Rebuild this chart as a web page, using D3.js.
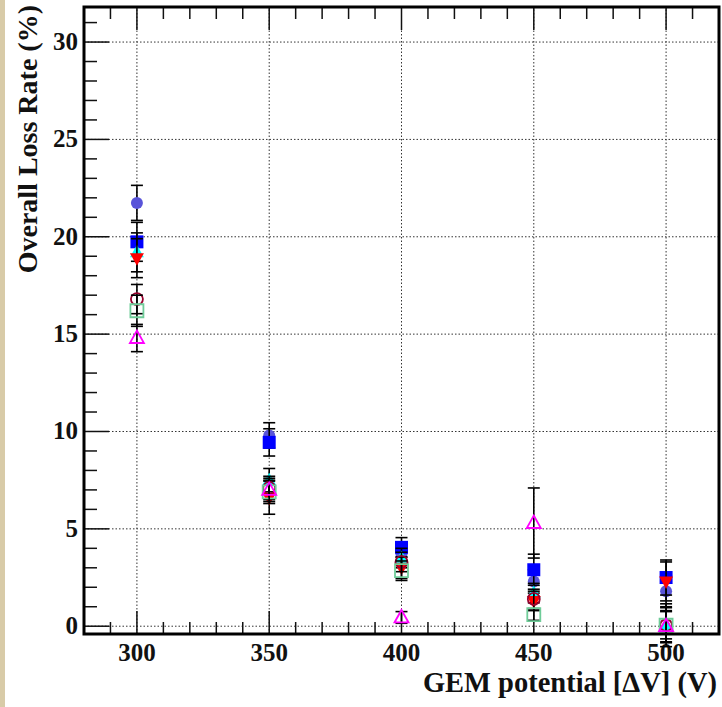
<!DOCTYPE html>
<html>
<head>
<meta charset="utf-8">
<script src="https://cdn.jsdelivr.net/npm/d3@7"></script>
<style>
  body { margin: 0; background: #fff; }
  svg { display: block; }
  .lbl { font-family: "Liberation Serif", "Times New Roman", serif; font-weight: bold; fill: #111; }
</style>
</head>
<body>
<script>
// GEM potential (V)
var voltages = [300, 350, 400, 450, 500];

// loss rate (%) per series, with errors
var slateCircle   = [21.74, 9.80, 3.70, 2.30, 1.80];
var slateCircleE  = [0.90, 0.65, 0.50, 0.60, 0.80];
var blueSquare    = [19.74, 9.44, 4.05, 2.90, 2.50];
var blueSquareE   = [1.00, 0.70, 0.50, 0.80, 0.90];
var cyanTri       = [19.20, 7.50, 3.50, 1.70, 0.05];
var cyanTriE      = [1.00, 0.60, 0.50, 0.50, 0.90];
var redTriDown    = [18.90, 6.60, 3.00, 1.30, 2.30];
var redTriDownE   = [1.00, 0.85, 0.55, 0.50, 1.00];
var darkRedOpen   = [16.80, 7.10, 3.30, 1.40, 0.05];
var darkRedOpenE  = [0.75, 0.60, 0.50, 0.50, 1.10];
var greenOpenSq   = [16.20, 6.90, 2.85, 0.60, 0.05];
var greenOpenSqE  = [0.80, 0.60, 0.50, 0.30, 0.70];
var magentaOpen   = [14.80, 7.00, 0.45, 5.30, 0.00];
var magentaOpenE  = [0.70, 0.60, 0.30, 1.80, 0.80];

var xTicks = [300, 350, 400, 450, 500];
var yTicks = [0, 5, 10, 15, 20, 25, 30];

var series = [
  { vals: slateCircle, errs: slateCircleE, shape: "circle", color: "#5954d9", fill: true },
  { vals: blueSquare, errs: blueSquareE, shape: "square", color: "#0000ff", fill: true },
  { vals: cyanTri, errs: cyanTriE, shape: "triUp", color: "#00ffff", fill: true },
  { vals: redTriDown, errs: redTriDownE, shape: "triDown", color: "#ff0000", fill: true },
  { vals: darkRedOpen, errs: darkRedOpenE, shape: "circle", color: "#99002e", fill: false },
  { vals: greenOpenSq, errs: greenOpenSqE, shape: "square", color: "#6fcc99", fill: false },
  { vals: magentaOpen, errs: magentaOpenE, shape: "triUp", color: "#ff00ff", fill: false }
];

var W = 722, H = 707;
var svg = d3.select("body").append("svg").attr("width", W).attr("height", H);

// beige strip of the slide on the left
svg.append("rect").attr("x", 0).attr("y", 0).attr("width", 5).attr("height", H).attr("fill", "#d8cba8");

var x = d3.scaleLinear().domain([280, 520]).range([84, 719]);
var y = d3.scaleLinear().domain([-0.4, 31.8]).range([634, 7]);
var x0 = x.range()[0], x1 = x.range()[1], y0 = y.range()[0], y1 = y.range()[1];

// grid
var grid = svg.append("g").attr("stroke", "#333").attr("stroke-width", 1).attr("stroke-dasharray", "1.5,2");
grid.selectAll("line.gx").data(xTicks).enter().append("line")
  .attr("x1", function (d) { return x(d); }).attr("x2", function (d) { return x(d); })
  .attr("y1", y0).attr("y2", y1);
grid.selectAll("line.gy").data(yTicks).enter().append("line")
  .attr("x1", x0).attr("x2", x1)
  .attr("y1", function (d) { return y(d); }).attr("y2", function (d) { return y(d); });

// ticks
var ticks = svg.append("g").attr("stroke", "#111").attr("stroke-width", 1.5);
var xMinor = d3.range(290, 520, 10);
ticks.selectAll("line.xb").data(xMinor).enter().append("line")
  .attr("x1", function (d) { return x(d); }).attr("x2", function (d) { return x(d); })
  .attr("y1", y0).attr("y2", function (d) { return y0 - (d % 50 === 0 ? 23 : 12); });
ticks.selectAll("line.xt").data(xMinor).enter().append("line")
  .attr("x1", function (d) { return x(d); }).attr("x2", function (d) { return x(d); })
  .attr("y1", y1).attr("y2", function (d) { return y1 + (d % 50 === 0 ? 23 : 12); });
var yMinor = d3.range(0, 32, 1);
ticks.selectAll("line.yl").data(yMinor).enter().append("line")
  .attr("x1", x0).attr("x2", function (d) { return x0 + (d % 5 === 0 ? 25 : 13); })
  .attr("y1", function (d) { return y(d); }).attr("y2", function (d) { return y(d); });

// tick labels
svg.selectAll("text.xl").data(xTicks).enter().append("text")
  .attr("class", "lbl").attr("x", function (d) { return x(d); }).attr("y", 661)
  .attr("text-anchor", "middle").attr("font-size", 25).text(function (d) { return d; });
svg.selectAll("text.yl").data(yTicks).enter().append("text")
  .attr("class", "lbl").attr("x", 78).attr("y", function (d) { return y(d) + 8; })
  .attr("text-anchor", "end").attr("font-size", 25).text(function (d) { return d; });

// axis titles
svg.append("text").attr("class", "lbl").attr("x", 717).attr("y", 692)
  .attr("text-anchor", "end").attr("font-size", 28.5).text("GEM potential [\u0394V] (V)");
svg.append("text").attr("class", "lbl").attr("transform", "translate(37,5) rotate(-90)")
  .attr("text-anchor", "end").attr("font-size", 28).text("Overall Loss Rate (%)");

// marker paths
function markerPath(shape) {
  var r = 6;
  if (shape === "circle") return "M" + (-r) + ",0A" + r + "," + r + " 0 1,0 " + r + ",0A" + r + "," + r + " 0 1,0 " + (-r) + ",0Z";
  if (shape === "square") return "M-6.5,-6.5H6.5V6.5H-6.5Z";
  if (shape === "triUp") return "M0,-7.5L7,5L-7,5Z";
  return "M0,7.5L7,-5L-7,-5Z";
}

series.forEach(function (s) {
  var pts = voltages.map(function (v, i) { return { v: v, val: s.vals[i], err: s.errs[i] }; });
  var g = svg.append("g");
  var eb = g.append("g").attr("stroke", "#000").attr("stroke-width", 1.6);
  eb.selectAll("line.v").data(pts).enter().append("line")
    .attr("x1", function (d) { return x(d.v); }).attr("x2", function (d) { return x(d.v); })
    .attr("y1", function (d) { return y(d.val - d.err); }).attr("y2", function (d) { return y(d.val + d.err); });
  [1, -1].forEach(function (sg) {
    eb.selectAll("line.c" + sg).data(pts).enter().append("line")
      .attr("x1", function (d) { return x(d.v) - 6; }).attr("x2", function (d) { return x(d.v) + 6; })
      .attr("y1", function (d) { return y(d.val + sg * d.err); }).attr("y2", function (d) { return y(d.val + sg * d.err); });
  });
  g.selectAll("path").data(pts).enter().append("path")
    .attr("d", markerPath(s.shape))
    .attr("transform", function (d) { return "translate(" + x(d.v) + "," + y(d.val) + ")"; })
    .attr("fill", s.fill ? s.color : "none")
    .attr("stroke", s.color)
    .attr("stroke-width", s.fill ? 0 : 1.8);
});

// frame
svg.append("rect").attr("x", x0).attr("y", y1).attr("width", x1 - x0).attr("height", y0 - y1)
  .attr("fill", "none").attr("stroke", "#000").attr("stroke-width", 3);
</script>
</body>
</html>
